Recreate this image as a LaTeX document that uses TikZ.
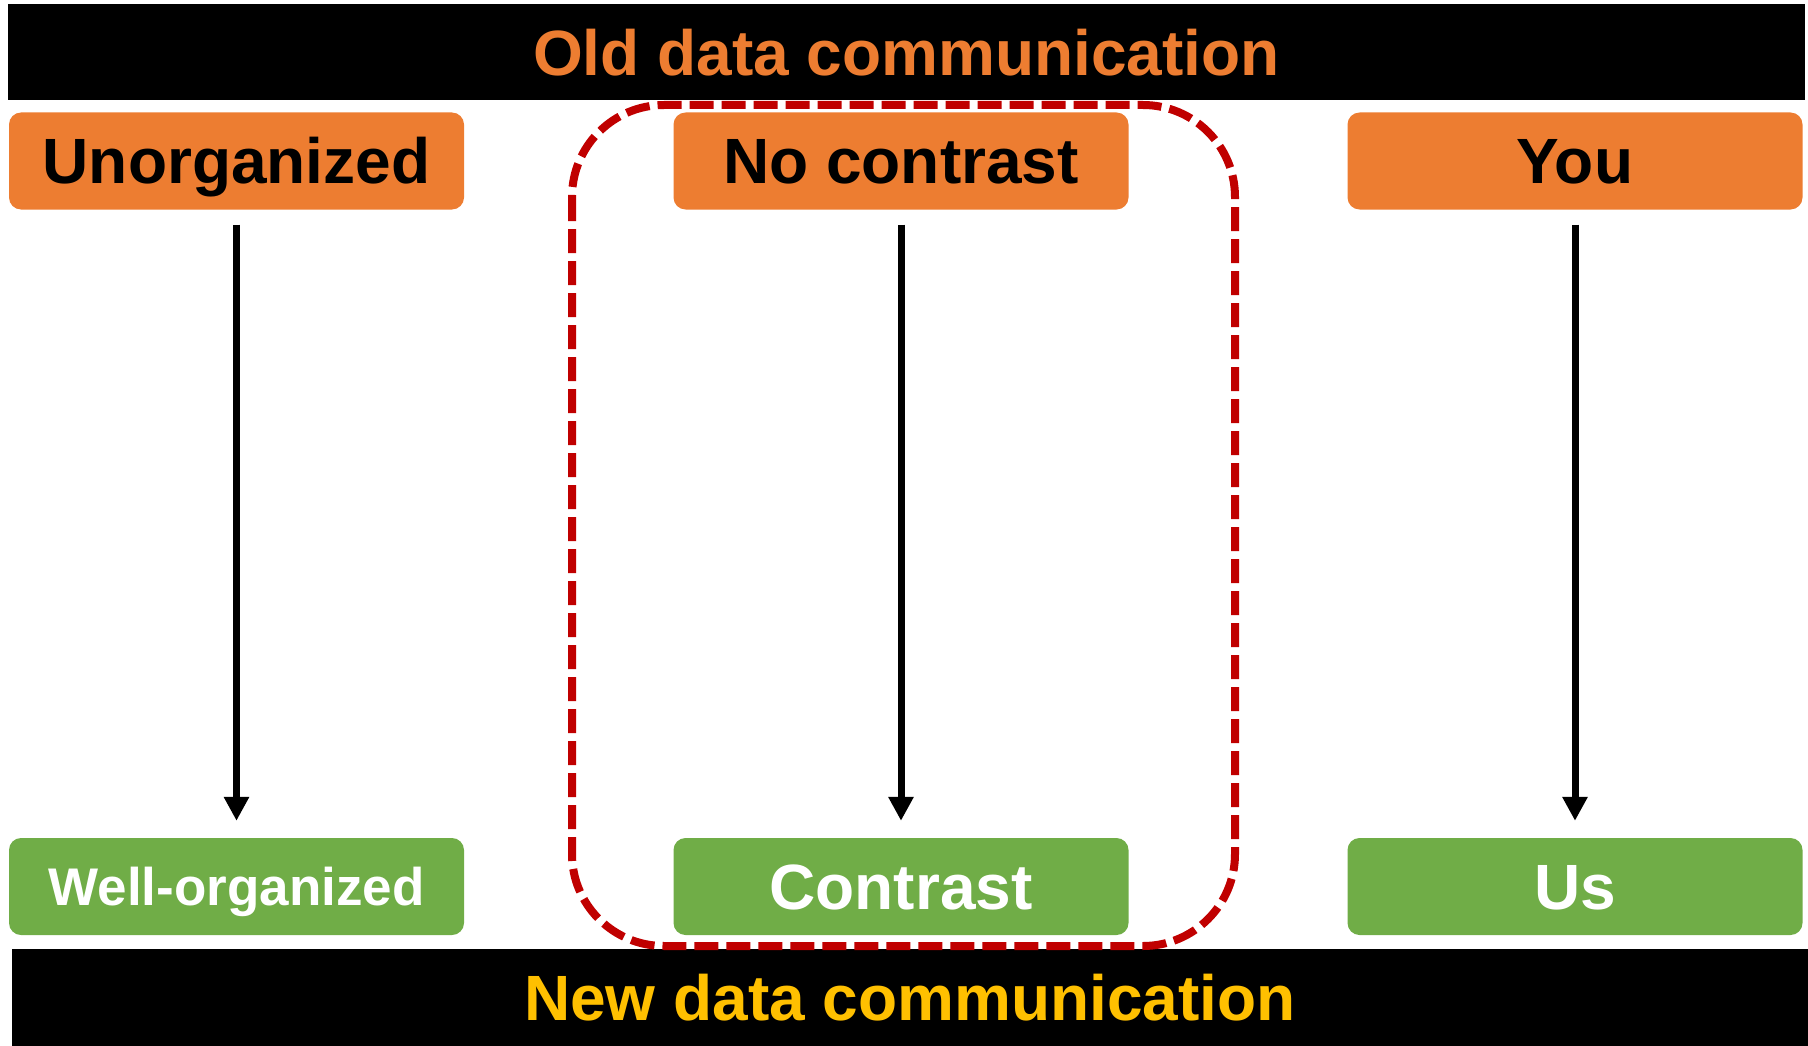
\documentclass[tikz,border=0pt]{standalone}
\usepackage{fontspec}
\setmainfont{Liberation Sans}
\usepackage{xcolor}
\usepackage{tikz}
\usetikzlibrary{arrows.meta,positioning}
\definecolor{boxorange}{RGB}{237,125,49}
\definecolor{boxgreen}{RGB}{112,173,71}
\definecolor{newyellow}{RGB}{255,192,0}
\definecolor{darkred}{RGB}{192,0,0}

\begin{document}
\begin{tikzpicture}[x=1pt,y=-1pt,font=\fontsize{64}{70}\selectfont\bfseries,
  box/.style={rounded corners=12pt,fill=#1,minimum width=455pt,minimum height=97pt,align=center,inner sep=0pt,text height=46pt,text depth=0pt},
  bar/.style={fill=black,minimum width=1797pt,minimum height=96pt,inner sep=0pt,text height=46pt,text depth=0pt},
  flow/.style={-{Triangle[width=24pt,length=24pt]},line width=7pt,shorten <=15pt,shorten >=17pt}
]
  \useasboundingbox (0,0) rectangle (1808,1046);

  % top and bottom bars
  \node[bar, text=boxorange] (old) at (906.5,52.5) {Old data communication};
  \node[bar, text=newyellow, minimum height=97pt] (new) at (910,997.5) {New data communication};

  % old column
  \node[box=boxorange] (unorg) at (236.5,161) {Unorganized};
  \node[box=boxorange] (nocon) at (901,161) {No contrast};
  \node[box=boxorange] (you) at (1575,161) {You};

  % new column
  \node[box=boxgreen, text=white, font=\fontsize{53}{60}\selectfont\bfseries, text height=38pt] (wellorg) at (236.5,886.5) {Well-organized};
  \node[box=boxgreen, text=white] (con) at (901,886.5) {Contrast};
  \node[box=boxgreen, text=white] (us) at (1575,886.5) {Us};

  \draw[flow] (unorg) -- (wellorg);
  \draw[flow] (nocon) -- (con);
  \draw[flow] (you) -- (us);

  % highlight
  \draw[darkred, line width=8pt, dash pattern=on 24pt off 8pt, rounded corners=92pt] (572,105) rectangle (1235,946);
\end{tikzpicture}
\end{document}
